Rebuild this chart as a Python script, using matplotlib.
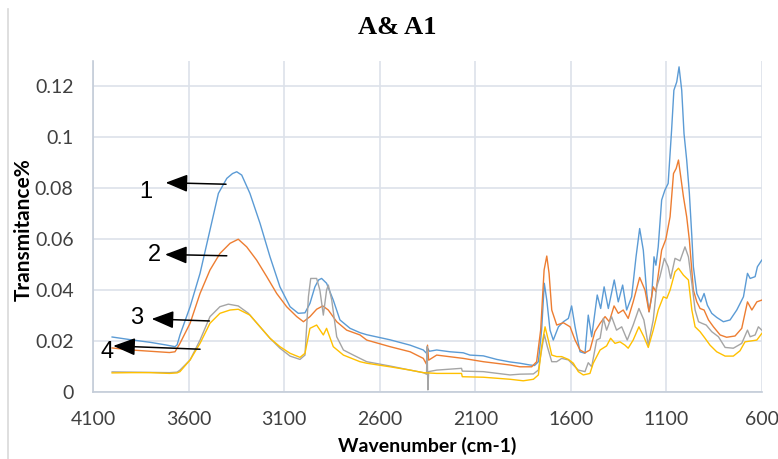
import matplotlib.pyplot as plt
from matplotlib.lines import Line2D

# wavenumber (cm-1) and transmitance for the four spectra
wn_1 = [4000, 3900, 3800, 3720, 3671, 3660, 3645, 3592, 3540, 3488, 3444, 3400, 3370, 3348,
        3322, 3279, 3226, 3174, 3122, 3069, 3026, 2991, 2965, 2939, 2920, 2904, 2878, 2843,
        2808, 2755, 2703, 2668, 2546, 2441, 2372, 2355, 2348, 2340, 2302, 2232, 2163, 2128,
        2058, 1988, 1918, 1866, 1814, 1790, 1770, 1753, 1739, 1726, 1709, 1692, 1665, 1639,
        1613, 1596, 1578, 1552, 1526, 1509, 1491, 1462, 1444, 1426, 1404, 1373, 1352, 1329,
        1308, 1282, 1259, 1240, 1221, 1203, 1191, 1177, 1165, 1155, 1143, 1125, 1108, 1091,
        1073, 1061, 1046, 1034, 1020, 1008, 994, 980, 967, 959, 941, 920, 903, 886, 863,
        837, 802, 767, 732, 697, 676, 662, 636, 624, 601]
t_1 = [0.0216, 0.0205, 0.0195, 0.0185, 0.0178, 0.0185, 0.0224, 0.0335, 0.0466, 0.0636, 0.0780,
       0.0839, 0.0858, 0.0865, 0.0852, 0.0780, 0.0662, 0.0531, 0.0413, 0.0335, 0.0309, 0.0311,
       0.0348, 0.0413, 0.0440, 0.0446, 0.0427, 0.0361, 0.0283, 0.0250, 0.0233, 0.0225, 0.0205,
       0.0184, 0.0165, 0.0152, 0.0170, 0.0160, 0.0165, 0.0158, 0.0154, 0.0145, 0.0142, 0.0128,
       0.0118, 0.0113, 0.0106, 0.0104, 0.0119, 0.0243, 0.0427, 0.0361, 0.0243, 0.0204, 0.0256,
       0.0276, 0.0289, 0.0338, 0.0256, 0.0158, 0.0152, 0.0302, 0.0217, 0.0381, 0.0328, 0.0413,
       0.0328, 0.0440, 0.0354, 0.0420, 0.0322, 0.0374, 0.0531, 0.0642, 0.0557, 0.0387, 0.0315,
       0.0374, 0.0531, 0.0498, 0.0570, 0.0754, 0.0793, 0.0819, 0.1028, 0.1185, 0.1218, 0.1277,
       0.1185, 0.1015, 0.0911, 0.0780, 0.0610, 0.0492, 0.0387, 0.0354, 0.0387, 0.0341, 0.0309,
       0.0293, 0.0276, 0.0283, 0.0322, 0.0374, 0.0466, 0.0446, 0.0453, 0.0492, 0.0518]

wn_2 = [4000, 3900, 3800, 3700, 3671, 3645, 3592, 3540, 3488, 3436, 3383, 3340, 3296, 3244,
        3191, 3139, 3087, 3034, 2999, 2965, 2930, 2898, 2869, 2825, 2773, 2703, 2668, 2546,
        2441, 2372, 2356, 2350, 2344, 2302, 2163, 2058, 1918, 1866, 1805, 1779, 1758, 1740,
        1726, 1714, 1700, 1674, 1639, 1604, 1578, 1552, 1526, 1500, 1474, 1447, 1421, 1399,
        1374, 1352, 1326, 1300, 1274, 1240, 1212, 1191, 1169, 1155, 1125, 1103, 1081, 1063,
        1049, 1037, 1025, 1011, 994, 980, 959, 941, 924, 903, 880, 854, 819, 785, 741, 706,
        676, 653, 627, 601]
t_2 = [0.0173, 0.0165, 0.0160, 0.0155, 0.0158, 0.0191, 0.0270, 0.0387, 0.0479, 0.0544, 0.0584,
       0.0600, 0.0570, 0.0518, 0.0453, 0.0387, 0.0335, 0.0296, 0.0276, 0.0296, 0.0325, 0.0338,
       0.0322, 0.0276, 0.0243, 0.0224, 0.0204, 0.0178, 0.0158, 0.0132, 0.0110, 0.0184, 0.0125,
       0.0145, 0.0132, 0.0119, 0.0106, 0.0099, 0.0099, 0.0119, 0.0243, 0.0479, 0.0534, 0.0466,
       0.0322, 0.0263, 0.0272, 0.0256, 0.0204, 0.0165, 0.0154, 0.0165, 0.0237, 0.0270, 0.0296,
       0.0276, 0.0338, 0.0309, 0.0322, 0.0289, 0.0354, 0.0450, 0.0400, 0.0315, 0.0413, 0.0394,
       0.0557, 0.0600, 0.0688, 0.0858, 0.0878, 0.0911, 0.0845, 0.0767, 0.0688, 0.0597, 0.0400,
       0.0354, 0.0328, 0.0322, 0.0283, 0.0256, 0.0224, 0.0215, 0.0220, 0.0250, 0.0354, 0.0322,
       0.0354, 0.0361]

wn_3 = [4000, 3900, 3800, 3700, 3660, 3645, 3592, 3540, 3488, 3436, 3392, 3340, 3287, 3226,
        3174, 3122, 3069, 3017, 2991, 2973, 2961, 2930, 2913, 2895, 2878, 2869, 2851, 2825,
        2790, 2738, 2703, 2668, 2546, 2441, 2372, 2355, 2352, 2348, 2344, 2302, 2172, 2168,
        2058, 1918, 1866, 1796, 1770, 1753, 1739, 1723, 1700, 1674, 1648, 1613, 1587, 1561,
        1526, 1509, 1491, 1465, 1447, 1430, 1413, 1387, 1361, 1334, 1305, 1274, 1244, 1218,
        1195, 1169, 1151, 1134, 1111, 1091, 1078, 1055, 1029, 1003, 985, 967, 950, 932, 915,
        892, 863, 828, 793, 750, 706, 676, 662, 636, 619, 601]
t_3 = [0.0079, 0.0078, 0.0077, 0.0076, 0.0078, 0.0086, 0.0126, 0.0204, 0.0296, 0.0335, 0.0345,
       0.0338, 0.0309, 0.0256, 0.0211, 0.0172, 0.0141, 0.0128, 0.0145, 0.0374, 0.0446, 0.0446,
       0.0400, 0.0302, 0.0400, 0.0420, 0.0361, 0.0217, 0.0165, 0.0145, 0.0132, 0.0119, 0.0102,
       0.0086, 0.0076, 0.0070, 0.0178, 0.0008, 0.0080, 0.0086, 0.0093, 0.0082, 0.0080, 0.0067,
       0.0070, 0.0071, 0.0086, 0.0165, 0.0226, 0.0178, 0.0119, 0.0119, 0.0132, 0.0126, 0.0106,
       0.0086, 0.0080, 0.0115, 0.0099, 0.0204, 0.0211, 0.0289, 0.0243, 0.0296, 0.0243, 0.0256,
       0.0204, 0.0263, 0.0328, 0.0283, 0.0184, 0.0283, 0.0413, 0.0453, 0.0525, 0.0492, 0.0446,
       0.0525, 0.0515, 0.0570, 0.0531, 0.0427, 0.0322, 0.0276, 0.0270, 0.0263, 0.0237, 0.0217,
       0.0175, 0.0172, 0.0191, 0.0243, 0.0217, 0.0224, 0.0256, 0.0243]

wn_4 = [4000, 3900, 3800, 3700, 3660, 3645, 3592, 3540, 3488, 3436, 3383, 3340, 3279, 3226,
        3174, 3122, 3069, 3017, 2991, 2965, 2930, 2895, 2878, 2843, 2790, 2703, 2668, 2546,
        2441, 2372, 2302, 2172, 2168, 2058, 1918, 1849, 1796, 1770, 1753, 1735, 1718, 1700,
        1674, 1648, 1613, 1587, 1561, 1535, 1500, 1483, 1447, 1413, 1392, 1369, 1343, 1317,
        1300, 1274, 1244, 1218, 1195, 1169, 1143, 1116, 1098, 1081, 1055, 1037, 1011, 985,
        967, 950, 924, 898, 872, 837, 793, 750, 715, 689, 653, 627, 601]
t_4 = [0.0075, 0.0076, 0.0076, 0.0073, 0.0075, 0.0080, 0.0126, 0.0191, 0.0270, 0.0309, 0.0322,
       0.0325, 0.0302, 0.0256, 0.0211, 0.0178, 0.0152, 0.0136, 0.0152, 0.0250, 0.0263, 0.0224,
       0.0250, 0.0178, 0.0145, 0.0119, 0.0113, 0.0099, 0.0086, 0.0076, 0.0073, 0.0073, 0.0060,
       0.0058, 0.0050, 0.0044, 0.0050, 0.0067, 0.0178, 0.0256, 0.0204, 0.0145, 0.0139, 0.0139,
       0.0128, 0.0113, 0.0080, 0.0067, 0.0073, 0.0113, 0.0165, 0.0181, 0.0211, 0.0191, 0.0197,
       0.0184, 0.0172, 0.0204, 0.0256, 0.0217, 0.0175, 0.0243, 0.0322, 0.0374, 0.0368, 0.0400,
       0.0472, 0.0486, 0.0459, 0.0440, 0.0322, 0.0256, 0.0237, 0.0211, 0.0184, 0.0158, 0.0141,
       0.0141, 0.0162, 0.0197, 0.0201, 0.0204, 0.0230]

# peak labels: text, text position, arrow head, arrow tail
labels = ["1", "2", "3", "4"]
label_pos = [(3824, 0.0786), (3781, 0.0537), (3871, 0.0291), (4025, 0.0158)]
arrow_head = [(3720, 0.0822), (3723, 0.0540), (3793, 0.0287), (3994, 0.0181)]
arrow_tail = [(3404, 0.0816), (3400, 0.0535), (3491, 0.0279), (3540, 0.0168)]

xticks = [4100, 3600, 3100, 2600, 2100, 1600, 1100, 600]
yticks = [0, 0.02, 0.04, 0.06, 0.08, 0.1, 0.12]
ytick_labels = ["0", "0.02", "0.04", "0.06", "0.08", "0.1", "0.12"]

colors = ["#5B9BD5", "#ED7D31", "#A5A5A5", "#FFC000"]

fig = plt.figure(figsize=(7.78, 4.59), dpi=100)
ax = fig.add_axes([93 / 778, 67 / 459, 669 / 778, 331 / 459])

for wn, t, c in zip([wn_1, wn_2, wn_3, wn_4], [t_1, t_2, t_3, t_4], colors):
    ax.plot(wn, t, color=c, lw=1.0, solid_joinstyle="round")

ax.set_xlim(4100, 600)
ax.set_ylim(0, 0.13)
ax.set_xticks(xticks)
ax.set_xticklabels([str(v) for v in xticks])
ax.set_yticks(yticks)
ax.set_yticklabels(ytick_labels)
ax.tick_params(length=0, labelsize=14, labelcolor="#404040", pad=14)
for lab in ax.get_xticklabels() + ax.get_yticklabels():
    lab.set_family("Lato")

ax.grid(True, color="#dde2ea", lw=1.2)
ax.set_axisbelow(True)
for s in ["top", "right"]:
    ax.spines[s].set_visible(False)
for s in ["left", "bottom"]:
    ax.spines[s].set_color("#c3ccd8")
    ax.spines[s].set_linewidth(1.2)

for txt, p, h, tl in zip(labels, label_pos, arrow_head, arrow_tail):
    ax.text(p[0], p[1], txt, fontsize=17, family="Liberation Sans", ha="center", va="center")
    ax.annotate("", xy=h, xytext=tl,
                arrowprops=dict(arrowstyle="-|>,head_length=0.75,head_width=0.3",
                                color="black", lw=1.1, mutation_scale=18,
                                shrinkA=0, shrinkB=0))

fig.text(397 / 778, 1 - 28 / 459, "A& A1", family="Liberation Serif", weight="bold",
         fontsize=19, ha="center", va="center")
fig.text(24 / 778, 1 - 230 / 459, "Transmitance%", family="Lato", weight="bold",
         fontsize=15, rotation=90, ha="center", va="center")
fig.text(427 / 778, 1 - 446 / 459, "Wavenumber (cm-1)", family="Lato", weight="bold",
         fontsize=14, ha="center", va="center")

# chart border on the left edge
fig.add_artist(Line2D([7.5 / 778, 7.5 / 778], [0, 1 - 9 / 459], color="#d9d9d9", lw=1.2))

fig.savefig("out.png", dpi=100)
